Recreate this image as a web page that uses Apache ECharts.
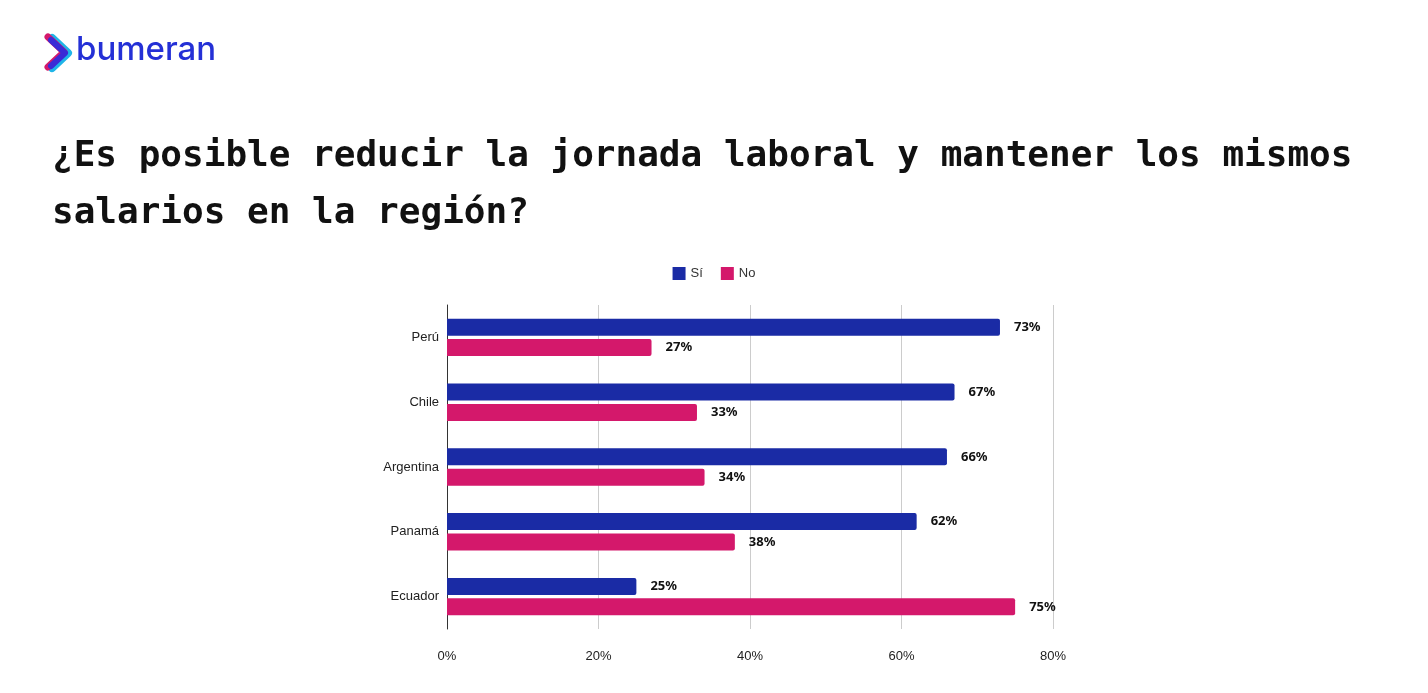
<!DOCTYPE html><html><head><meta charset="utf-8">
<script src="https://cdn.jsdelivr.net/npm/echarts@6/dist/echarts.min.js"></script>
<style>html,body{margin:0;background:#fff}#c{width:1428px;height:693px}</style></head><body><div id="c"></div>
<script>
const categories=['Perú','Chile','Argentina','Panamá','Ecuador'];
const si=[73,67,66,62,25];
const no=[27,33,34,38,75];
const xTicks=[0,20,40,60,80];
const chart=echarts.init(document.getElementById('c'));
const lab={show:true,position:'right',distance:14,formatter:p=>p.value+'%',fontFamily:'Noto Sans',fontWeight:'bold',fontSize:13,color:'#111'};
chart.setOption({
 animation:false,
 graphic:[
  {type:'polyline',shape:{points:[[52,38],[68,53],[52,68]]},style:{stroke:'#1fb5e8',lineWidth:8,fill:null,lineCap:'round',lineJoin:'round'}},
  {type:'polyline',shape:{points:[[48,37],[64,52],[48,67]]},style:{stroke:'#d4196b',lineWidth:7,fill:null,lineCap:'round',lineJoin:'round'}},
  {type:'polyline',shape:{points:[[51,40],[65,53],[51,66]]},style:{stroke:'#3a2bd6',lineWidth:6,fill:null,lineCap:'round',lineJoin:'round'}},
  {type:'text',left:76,top:34,style:{text:'bumeran',font:'500 33px Inter',fill:'#2430d6'}},
  {type:'text',left:52,top:128,style:{text:'¿Es posible reducir la jornada laboral y mantener los mismos\nsalarios en la región?',font:'bold 36px "DejaVu Sans Mono"',fill:'#111',lineHeight:57}}
 ],
 legend:{top:262,left:'center',itemWidth:13,itemHeight:13,itemGap:18,icon:'rect',textStyle:{fontFamily:'Liberation Sans',fontSize:13,color:'#333'},data:['Sí','No']},
 grid:{left:447,width:606,top:305,height:324},
 xAxis:{type:'value',min:0,max:80,interval:20,axisLabel:{formatter:v=>v+'%',fontFamily:'Liberation Sans',fontSize:13,color:'#222',margin:21},splitLine:{lineStyle:{color:'#ccc'}},axisLine:{show:false},axisTick:{show:false}},
 yAxis:{type:'category',inverse:true,data:categories,axisLine:{lineStyle:{color:'#333'}},axisTick:{show:false},axisLabel:{fontFamily:'Liberation Sans',fontSize:13,color:'#222',margin:8}},
 series:[
  {name:'Sí',type:'bar',data:si,barWidth:17,barGap:'20%',itemStyle:{color:'#1a2ba5',borderRadius:[0,2,2,0]},label:lab},
  {name:'No',type:'bar',data:no,barWidth:17,itemStyle:{color:'#d4186b',borderRadius:[0,2,2,0]},label:lab}
 ]
});
</script></body></html>
